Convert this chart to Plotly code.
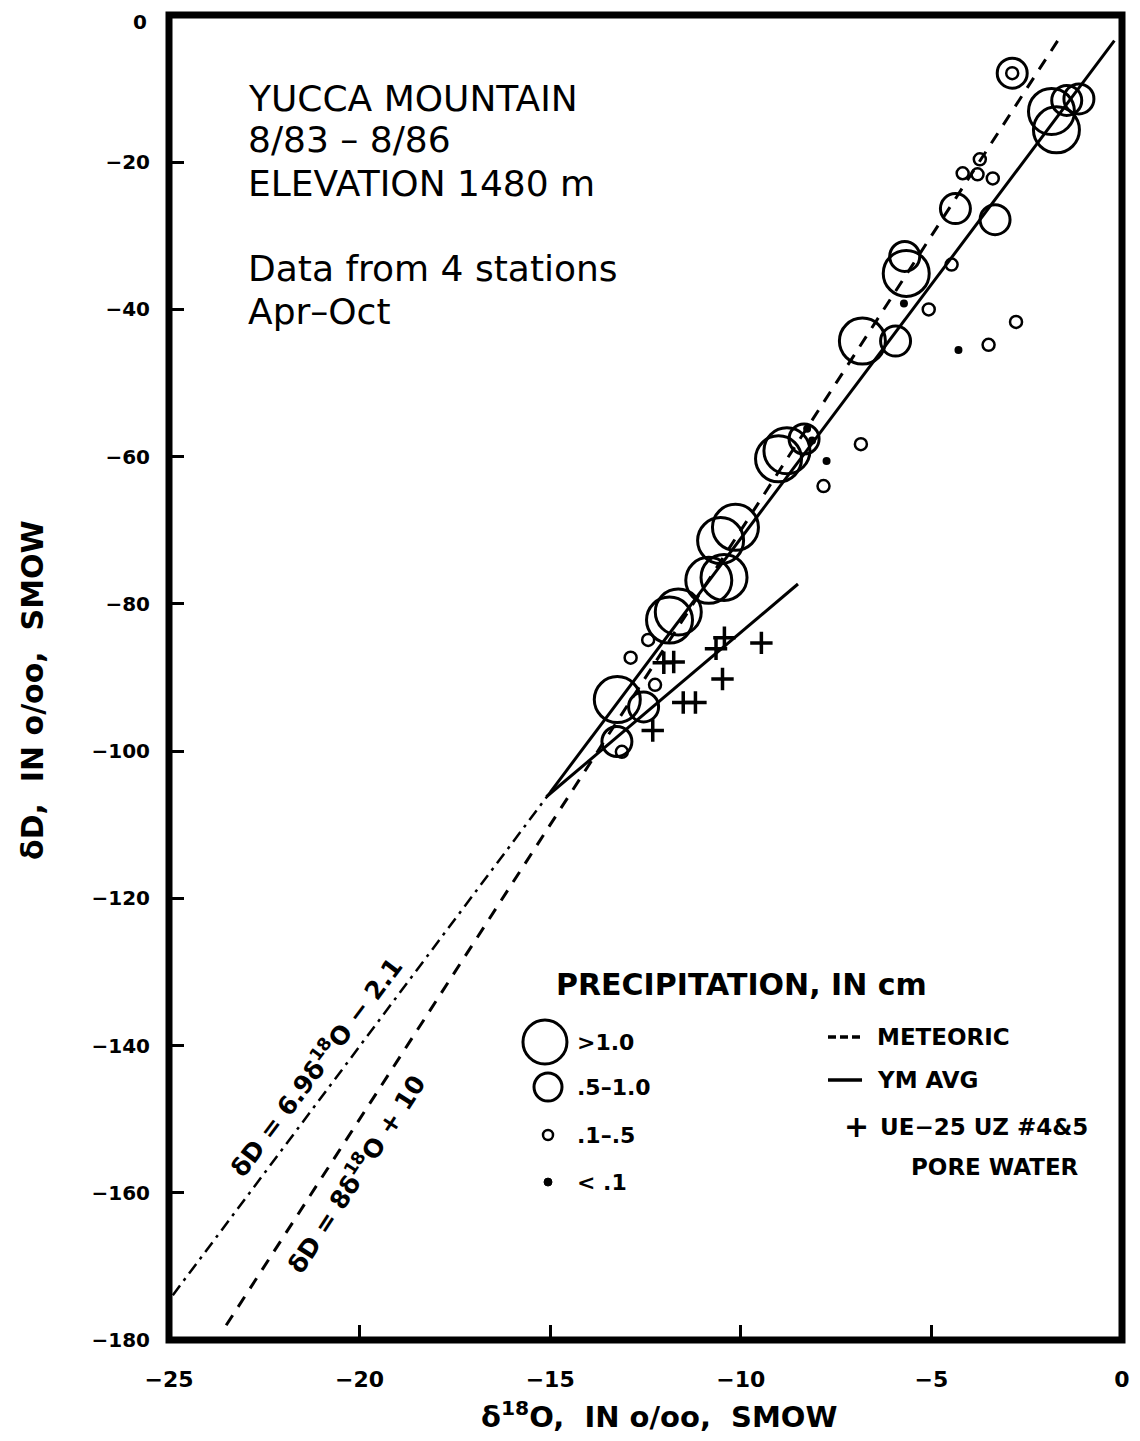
import plotly.graph_objects as go

# ---------------- data ----------------
# precipitation samples, grouped by amount class (delta18O, deltaD)
large_x = [-1.85, -1.72, -5.66, -6.81, -8.79, -9.01, -10.14, -10.53, -10.84, -10.44, -11.87, -11.64, -13.24]
large_y = [-13.1, -15.6, -35.1, -44.3, -59.2, -60.3, -69.6, -71.4, -76.8, -76.4, -82.2, -81.1, -93.0]

medium_x = [-2.88, -1.45, -1.13, -4.37, -3.33, -5.70, -5.94, -8.34, -12.55, -13.25]
medium_y = [-7.9, -11.6, -11.4, -26.3, -27.8, -32.8, -44.3, -57.6, -94.0, -98.7]

small_x = [-2.88, -3.73, -4.18, -3.79, -3.39, -4.47, -5.07, -3.50, -2.78, -6.85, -7.83, -12.43, -12.89, -12.25, -13.12]
small_y = [-7.9, -19.6, -21.5, -21.65, -22.2, -33.9, -40.0, -44.8, -41.7, -58.3, -64.0, -84.9, -87.3, -91.0, -100.1]

dot_x = [-5.72, -4.29, -7.75, -8.26, -8.13]
dot_y = [-39.2, -45.5, -60.6, -56.2, -57.8]

# UE-25 UZ #4&5 pore water
pore_x = [-11.76, -12.02, -10.43, -10.65, -9.46, -10.48, -11.51, -11.19, -12.31]
pore_y = [-87.9, -88.0, -84.6, -86.1, -85.3, -90.2, -93.4, -93.4, -97.2]

# lines (equations printed on the chart)
meteoric_slope, meteoric_icpt = 8.0, 10.0
meteoric_x = [-23.5, -1.55]
ym_slope, ym_icpt = 6.9, -2.1
ym_solid_x = [-15.0, -0.2]
ym_dashdot_x = [-24.9, -15.0]
pore_line_x = [-8.5, -15.1]
pore_line_y = [-77.3, -106.2]

x_ticks = [-25, -20, -15, -10, -5, 0]
y_ticks = [0, -20, -40, -60, -80, -100, -120, -140, -160, -180]

FONT = "DejaVu Sans"
BLK = "black"

fig = go.Figure()

def line_y(xs, m, b):
    return [m * v + b for v in xs]

fig.add_trace(go.Scatter(x=meteoric_x, y=line_y(meteoric_x, meteoric_slope, meteoric_icpt),
                         mode="lines", line=dict(color=BLK, width=3, dash="12px,10px"),
                         hoverinfo="skip"))
fig.add_trace(go.Scatter(x=ym_solid_x, y=line_y(ym_solid_x, ym_slope, ym_icpt),
                         mode="lines", line=dict(color=BLK, width=3), hoverinfo="skip"))
fig.add_trace(go.Scatter(x=ym_dashdot_x, y=line_y(ym_dashdot_x, ym_slope, ym_icpt),
                         mode="lines", line=dict(color=BLK, width=2.5, dash="12px,6px,3px,6px"),
                         hoverinfo="skip"))
fig.add_trace(go.Scatter(x=pore_line_x, y=pore_line_y, mode="lines",
                         line=dict(color=BLK, width=3), hoverinfo="skip"))

def circles(xs, ys, size, lw):
    fig.add_trace(go.Scatter(x=xs, y=ys, mode="markers",
                             marker=dict(symbol="circle-open", size=size, color=BLK,
                                         line=dict(width=lw, color=BLK))))

circles(large_x, large_y, 46, 3)
circles(medium_x, medium_y, 30, 3)
circles(small_x, small_y, 12, 2.5)
fig.add_trace(go.Scatter(x=dot_x, y=dot_y, mode="markers",
                         marker=dict(symbol="circle", size=8, color=BLK)))
fig.add_trace(go.Scatter(x=pore_x, y=pore_y, mode="markers",
                         marker=dict(symbol="cross-thin-open", size=16, color=BLK,
                                     line=dict(width=3.5, color=BLK))))

axis_common = dict(showgrid=False, zeroline=False, showline=False,
                   ticks="inside", ticklen=15, tickwidth=3, tickcolor=BLK,
                   automargin=False, ticklabeloverflow="allow")

fig.update_xaxes(range=[-25, 0], tickvals=x_ticks,
                 ticktext=["\u221225", "\u221220", "\u221215", "\u221210", "\u22125", "0"],
                 tickfont=dict(family=FONT, size=22, color=BLK, weight="bold"),
                 ticklabelstandoff=24, **axis_common)
# the top "0" label is placed as an annotation (just below the frame, as in the original)
fig.update_yaxes(range=[-180, 0], tickvals=y_ticks,
                 ticktext=[""] + ["\u2212%d" % (-v) for v in y_ticks[1:]],
                 tickfont=dict(family=FONT, size=20, color=BLK, weight="bold"),
                 ticklabelstandoff=18, **axis_common)

ann = []
ann.append(dict(xref="paper", yref="paper", x=-0.021, y=0.9947, showarrow=False,
                xanchor="right", yanchor="middle", text=str(y_ticks[0]),
                font=dict(family=FONT, size=20, color=BLK, weight="bold")))
# axis titles
ann.append(dict(xref="paper", yref="paper", x=0.515, y=-0.0565, showarrow=False,
                xanchor="center", yanchor="middle",
                text="\u03b4<sup>18</sup>O,  IN o/oo,  SMOW",
                font=dict(family=FONT, size=29, color=BLK, weight="bold")))
ann.append(dict(xref="paper", yref="paper", x=-0.1427, y=0.4906, showarrow=False,
                xanchor="center", yanchor="middle", textangle=-90,
                text="\u03b4D,  IN o/oo,  SMOW",
                font=dict(family=FONT, size=30, color=BLK, weight="bold")))
# title block
TF = dict(family=FONT, size=36, color=BLK)
for txt, py in [("YUCCA MOUNTAIN", 98), ("8/83 \u2013 8/86", 140), ("ELEVATION 1480 m", 183),
                ("Data from 4 stations", 268), ("Apr\u2013Oct", 311)]:
    ann.append(dict(xref="paper", yref="paper", x=(246 - 169) / 953, y=(1340 - py) / 1325,
                    xanchor="left", yanchor="middle", showarrow=False, text=txt, font=TF))
# equation labels along the lines
ann.append(dict(x=-21.15, y=-142.9, xref="x", yref="y", showarrow=False, textangle=-53,
                xanchor="center", yanchor="middle",
                text="\u03b4D = 6.9\u03b4<sup>18</sup>O \u2212 2.1",
                font=dict(family=FONT, size=25, color=BLK, weight="bold")))
ann.append(dict(x=-20.1, y=-157.4, xref="x", yref="y", showarrow=False, textangle=-57,
                xanchor="center", yanchor="middle",
                text="\u03b4D = 8\u03b4<sup>18</sup>O + 10",
                font=dict(family=FONT, size=25, color=BLK, weight="bold")))
# custom legend
LF = dict(family=FONT, size=22, color=BLK, weight="bold")
ann.append(dict(xref="paper", yref="paper", x=0.601, y=0.268, showarrow=False,
                xanchor="center", yanchor="middle",
                text="PRECIPITATION, IN cm",
                font=dict(family=FONT, size=30, color=BLK, weight="bold")))
for txt, yp in [(">1.0", 0.2249), (".5\u20131.0", 0.1909), (".1\u2013.5", 0.1547), ("< .1", 0.1192)]:
    ann.append(dict(xref="paper", yref="paper", x=0.426, y=yp, xanchor="left",
                    yanchor="middle", showarrow=False, text=txt, font=LF))
RF = dict(family=FONT, size=23, color=BLK, weight="bold")
for txt, yp, xp in [("METEORIC", 0.2287, 0.7408), ("YM AVG", 0.1962, 0.7408),
                    ("UE\u221225 UZ #4&5", 0.1608, 0.744)]:
    ann.append(dict(xref="paper", yref="paper", x=xp, y=yp, xanchor="left",
                    yanchor="middle", showarrow=False, text=txt, font=RF))
ann.append(dict(xref="paper", yref="paper", x=0.8667, y=0.1306, showarrow=False,
                xanchor="center", yanchor="middle", text="PORE WATER", font=RF))
ann.append(dict(xref="paper", yref="paper", x=0.7219, y=0.1608, showarrow=False,
                xanchor="center", yanchor="middle",
                text="+", font=dict(family=FONT, size=30, color=BLK, weight="bold")))

shapes = []
# plot frame, centred on the plot-area edges
shapes.append(dict(type="rect", xref="paper", yref="paper", x0=0, x1=1, y0=0, y1=1,
                   line=dict(color=BLK, width=7), layer="above"))
for xp, yp, r, lw in [(0.3945, 0.2249, 22, 3), (0.3977, 0.1909, 14, 3), (0.3977, 0.1547, 5, 2.5)]:
    shapes.append(dict(type="circle", xref="paper", yref="paper", xsizemode="pixel",
                       ysizemode="pixel", xanchor=xp, yanchor=yp, x0=-r, x1=r, y0=-r, y1=r,
                       line=dict(color=BLK, width=lw)))
shapes.append(dict(type="circle", xref="paper", yref="paper", xsizemode="pixel",
                   ysizemode="pixel", xanchor=0.3977, yanchor=0.1192, x0=-4, x1=4, y0=-4, y1=4,
                   line=dict(color=BLK, width=1), fillcolor=BLK))
shapes.append(dict(type="line", xref="paper", yref="paper", x0=0.6915, x1=0.7272, y0=0.2287,
                   y1=0.2287, line=dict(color=BLK, width=3.5, dash="8px,4px")))
shapes.append(dict(type="line", xref="paper", yref="paper", x0=0.6915, x1=0.7272, y0=0.1962,
                   y1=0.1962, line=dict(color=BLK, width=3.5)))

# the page body has an 8px margin, so the figure is 16px smaller than the window
fig.update_layout(width=1124, height=1425, paper_bgcolor="white", plot_bgcolor="white",
                  margin=dict(l=161, r=10, t=7, b=93, autoexpand=False), showlegend=False,
                  annotations=ann, shapes=shapes)

fig.write_html("out.html")
